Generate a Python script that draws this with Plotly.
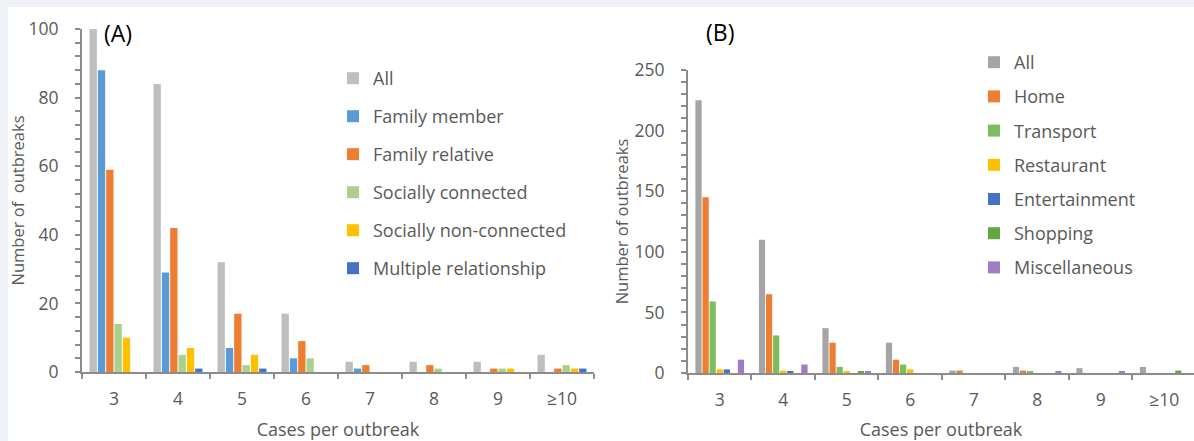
import plotly.graph_objects as go

W, H = 1194, 441

categories = ["3", "4", "5", "6", "7", "8", "9", "≥10"]

# Panel A: by relationship
a_all = [100, 84, 32, 17, 3, 3, 3, 5]
a_family_member = [88, 29, 7, 4, 1, 0, 0, 0]
a_family_relative = [59, 42, 17, 9, 2, 2, 1, 1]
a_social_conn = [14, 5, 2, 4, 0, 1, 1, 2]
a_social_nonconn = [10, 7, 5, 0, 0, 0, 1, 1]
a_multiple = [0, 1, 1, 0, 0, 0, 0, 1]

# Panel B: by setting
b_all = [225, 110, 37, 25, 2, 5, 4, 5]
b_home = [145, 65, 25, 11, 2, 2, 0, 0]
b_transport = [59, 31, 5, 7, 0, 1, 0, 0]
b_restaurant = [3, 2, 1, 3, 0, 0, 0, 0]
b_entertainment = [3, 1, 0, 0, 0, 0, 0, 0]
b_shopping = [0, 0, 1, 0, 0, 0, 0, 2]
b_misc = [11, 7, 1, 0, 0, 1, 1, 0]

series_a = [
    ("All", a_all, "#BFBFBF"),
    ("Family member", a_family_member, "#5B9BD5"),
    ("Family relative", a_family_relative, "#ED7D31"),
    ("Socially connected", a_social_conn, "#A9D18E"),
    ("Socially non-connected", a_social_nonconn, "#FFC000"),
    ("Multiple relationship", a_multiple, "#4472C4"),
]
series_b = [
    ("All", b_all, "#A5A5A5"),
    ("Home", b_home, "#ED7D31"),
    ("Transport", b_transport, "#7DBE5C"),
    ("Restaurant", b_restaurant, "#FFC000"),
    ("Entertainment", b_entertainment, "#4472C4"),
    ("Shopping", b_shopping, "#62A83F"),
    ("Miscellaneous", b_misc, "#A07CC5"),
]

FONT = "Open Sans"
TXT = "#595959"
AX = "#8C8C8C"

fig = go.Figure()
for i, (name, vals, col) in enumerate(series_a):
    fig.add_trace(go.Bar(x=categories, y=vals, name=name, marker_color=col,
                         marker_line_width=0, xaxis="x", yaxis="y",
                         legend="legend", legendgroup="a%d" % i))
for i, (name, vals, col) in enumerate(series_b):
    fig.add_trace(go.Bar(x=categories, y=vals, name=name, marker_color=col,
                         marker_line_width=0, xaxis="x2", yaxis="y2",
                         legend="legend2", legendgroup="b%d" % i))

def px_x(p):
    return p / W

def px_y(p):
    return (H - p) / H

axfont = dict(family=FONT, size=17.5, color=TXT)
xtitle_font = dict(family=FONT, size=18, color=TXT)
ytitle_font = dict(family=FONT, size=16.5, color=TXT)
common_x = dict(type="category", showline=True, linecolor=AX, linewidth=2,
                ticks="outside", tickson="boundaries", ticklen=5, tickwidth=2,
                tickcolor=AX, tickfont=axfont, showgrid=False, zeroline=False,
                ticklabelstandoff=10, automargin=False)
common_y = dict(showline=True, linecolor=AX, linewidth=2, ticks="outside",
                ticklen=5, tickwidth=2, tickcolor=AX, tickfont=axfont,
                showgrid=False, zeroline=False, ticklabelstandoff=13,
                automargin=False)

xa_dom = [px_x(82), px_x(594)]
xb_dom = [px_x(688), 1.0]
ya_dom = [px_y(372), px_y(29)]
yb_dom = [px_y(373), px_y(70)]

fig.update_layout(
    width=W, height=H,
    margin=dict(l=0, r=0, t=0, b=0, pad=0, autoexpand=False),
    paper_bgcolor="#EEF2F6",
    plot_bgcolor="rgba(0,0,0,0)",
    barmode="group", bargap=0.22, bargroupgap=0.12,
    font=dict(family=FONT, color=TXT),
    xaxis=dict(common_x, domain=xa_dom, anchor="y", range=[-0.5, 7.5],
               title=dict(text="Cases per outbreak", font=xtitle_font, standoff=14)),
    xaxis3=dict(domain=xa_dom, anchor="y", overlaying="x", range=[-0.5, 7.5],
                tickmode="array", tickvals=list(range(8)), showticklabels=False,
                ticks="outside", ticklen=5, tickwidth=2, tickcolor=AX,
                showline=False, showgrid=False, zeroline=False, automargin=False),
    yaxis=dict(common_y, domain=ya_dom, anchor="x", range=[0, 100],
               tickmode="linear", tick0=0, dtick=20,
               minor=dict(ticks="outside", ticklen=5, tickwidth=2, tickcolor=AX, dtick=4, showgrid=False),
               title=dict(text="Number of\u00a0 outbreaks", font=ytitle_font, standoff=0)),
    xaxis2=dict(common_x, domain=xb_dom, anchor="y2", range=[-0.5, 7.47],
                title=dict(text="Cases per outbreak", font=xtitle_font, standoff=14)),
    yaxis2=dict(common_y, domain=yb_dom, anchor="x2", range=[0, 250],
                tickmode="linear", tick0=0, dtick=50,
                minor=dict(ticks="outside", ticklen=5, tickwidth=2, tickcolor=AX, dtick=10, showgrid=False),
                title=dict(text="Number of outbreaks", font=ytitle_font, standoff=2)),
    legend=dict(x=px_x(333), y=px_y(60), xanchor="left", yanchor="top",
                bgcolor="rgba(0,0,0,0)", font=dict(family=FONT, size=18, color=TXT),
                traceorder="grouped", tracegroupgap=11.6, itemclick=False),
    legend2=dict(x=px_x(974), y=px_y(44), xanchor="left", yanchor="top",
                 bgcolor="rgba(0,0,0,0)", font=dict(family=FONT, size=18, color=TXT),
                 traceorder="grouped", tracegroupgap=7.8, itemclick=False),
    shapes=[dict(type="rect", xref="paper", yref="paper", layer="below",
                 x0=px_x(8), x1=1.02, y0=-0.02, y1=px_y(7),
                 fillcolor="white", line=dict(width=0))],
    annotations=[
        dict(text="(A)", x=px_x(102), y=px_y(33), xref="paper", yref="paper",
             xanchor="left", yanchor="middle", showarrow=False,
             font=dict(family=FONT, size=23, color="#000000")),
        dict(text="(B)", x=px_x(704), y=px_y(32), xref="paper", yref="paper",
             xanchor="left", yanchor="middle", showarrow=False,
             font=dict(family=FONT, size=23, color="#000000")),
    ],
)

fig.write_html("out.html")
